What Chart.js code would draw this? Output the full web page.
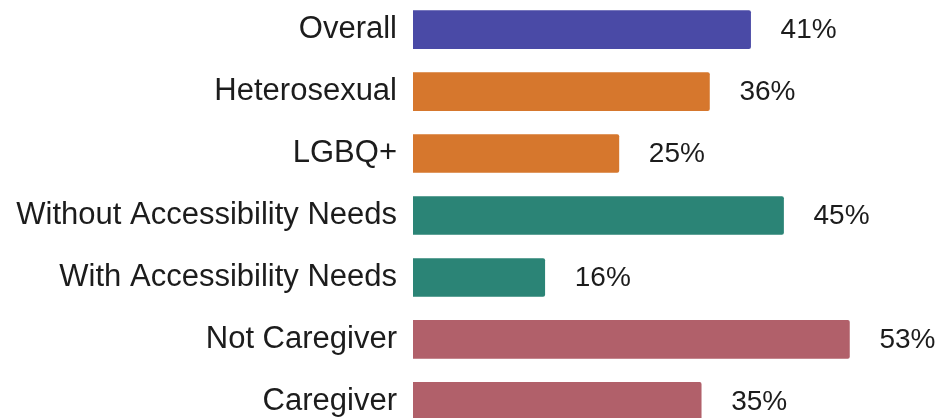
<!DOCTYPE html>
<html>
<head>
<meta charset="utf-8">
<script src="https://cdn.jsdelivr.net/npm/chart.js@4"></script>
<style>
  html, body { margin: 0; padding: 0; background: #fff; overflow: hidden; }
  #wrap { position: absolute; left: 0; top: -36px; width: 940px; height: 503px; }
</style>
</head>
<body>
<div id="wrap"><canvas id="mychart"></canvas></div>
<script>
// groups down the left side
var groups = ['Overall', 'Heterosexual', 'LGBQ+', 'Without Accessibility Needs',
              'With Accessibility Needs', 'Not Caregiver', 'Caregiver'];
// percent for each group
var values = [41, 36, 25, 45, 16, 53, 35];
var bgcolor = ['#4a4aa6', '#d6772d', '#d6772d', '#2b8476', '#2b8476', '#b1606a', '#b1606a'];

// draws "41%" etc. to the right of each bar
var valueLabels = {
  id: 'valueLabels',
  afterDatasetsDraw: function(chart) {
    var ctx = chart.ctx;
    var meta = chart.getDatasetMeta(0);
    ctx.save();
    ctx.font = '28px "Liberation Sans", Arial, sans-serif';
    ctx.fillStyle = '#1c1c1c';
    ctx.textAlign = 'left';
    ctx.textBaseline = 'middle';
    meta.data.forEach(function(bar, i) {
      ctx.fillText(values[i] + '%', bar.x + 30, bar.y + 1);
    });
    ctx.restore();
  }
};

var ctx = document.getElementById('mychart');
var myChart = new Chart(ctx, {
  type: 'bar',
  data: {
    labels: groups,
    datasets: [{
      data: values,
      backgroundColor: bgcolor,
      borderWidth: 0,
      borderRadius: 2,
      barThickness: 38
    }]
  },
  options: {
    indexAxis: 'y',
    responsive: true,
    maintainAspectRatio: false,
    animation: false,
    layout: { padding: 0 },
    plugins: {
      legend: { display: false },
      tooltip: { enabled: false }
    },
    scales: {
      x: {
        display: false,
        min: 0,
        max: 64
      },
      y: {
        grid: { display: false, drawTicks: false },
        border: { display: false },
        ticks: {
          color: '#1c1c1c',
          padding: 16,
          font: { family: '"Liberation Sans", Arial, sans-serif', size: 31 }
        },
        afterFit: function(scale) { scale.width = 413; }
      }
    }
  },
  plugins: [valueLabels]
});
</script>
</body>
</html>
